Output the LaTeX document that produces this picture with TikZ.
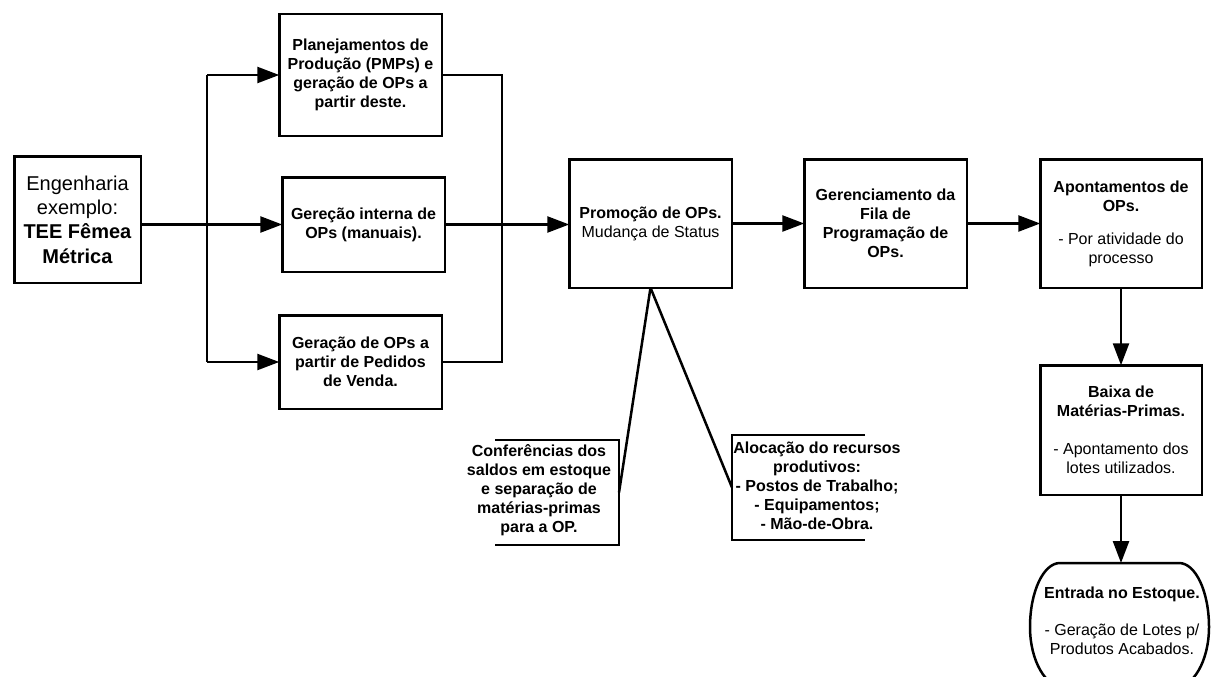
\documentclass[tikz,border=0pt]{standalone}
\usepackage{fontspec}
\setmainfont{Liberation Sans}
\usetikzlibrary{arrows.meta}
\newcommand\regtxt[1]{{\mdseries #1}}
\begin{document}
\begin{tikzpicture}[x=1pt,y=-1pt,
  every node/.style={align=center, inner sep=0pt, outer sep=0pt,
    font=\fontsize{16}{19}\selectfont\bfseries},
  box/.style={draw, line width=2.5pt, minimum width=162.5pt},
  wire/.style={line width=2.5pt},
  arr/.style={wire, -{Triangle[length=22pt,width=16pt]}},
]
\useasboundingbox (0,0) rectangle (1215,677);
\clip (0,0) rectangle (1215,677);

% source box
\node[box, minimum width=126.5pt, minimum height=126.5pt,
      font=\fontsize{20}{24.3}\selectfont] (eng) at (77.5,219.5)
  {Engenharia\\exemplo:\\\textbf{TEE Fêmea}\\\textbf{Métrica}};

% three ways of generating production orders
\node[box, minimum height=121.5pt] (plan) at (360.5,75)
  {Planejamentos de\\Produção (PMPs) e\\geração de OPs a\\partir deste.};
\node[box, minimum height=94.5pt] (ger) at (363.5,224.5)
  {Gereção interna de\\OPs (manuais).};
\node[box, minimum height=93.5pt] (ped) at (360.5,362)
  {Geração de OPs a\\partir de Pedidos\\de Venda.};

% main flow
\node[box, minimum height=128.5pt] (prom) at (650.5,223.5)
  {Promoção de OPs.\\\regtxt{Mudança de Status}};
\node[box, minimum height=128.5pt] (gern) at (885.5,223.5)
  {Gerenciamento da\\Fila de\\Programação de\\OPs.};
\node[box, minimum width=161.5pt, minimum height=128.5pt] (apon) at (1121,223.5)
  {Apontamentos de\\OPs.\\[14pt]\regtxt{- Por atividade do}\\\regtxt{processo}};
\node[box, minimum width=161.5pt, minimum height=129.5pt] (baixa) at (1121,430)
  {Baixa de\\Matérias-Primas.\\[19pt]\regtxt{- Apontamento dos}\\\regtxt{lotes utilizados.}};

% stock entry: rounded outline with flattened top
\draw[line width=2.5pt]
  (1060,563) -- (1179,563)
  .. controls (1195.6,563) and (1209,591.7) .. (1209,627)
  .. controls (1209,660.7) and (1193.3,688) .. (1174,688)
  -- (1065,688)
  .. controls (1045.7,688) and (1030,660.7) .. (1030,627)
  .. controls (1030,591.7) and (1043.4,563) .. cycle;
\coordinate (entrTop) at (1121,563);
\node (entr) at (1122,621)
  {Entrada no Estoque.\\[18pt]\regtxt{- Geração de Lotes p/}\\\regtxt{Produtos Acabados.}};

% annotations hanging from the promotion step
\node (conf) at (539,490)
  {Conferências dos\\saldos em estoque\\e separação de\\matérias-primas\\para a OP.};
\node (aloc) at (817,485.5)
  {Alocação do recursos\\produtivos:\\- Postos de Trabalho;\\- Equipamentos;\\- Mão-de-Obra.};
\draw[wire] (495,440) -| (619,545) -- (495,545);
\draw[wire] (865,435) -| (732,540) -- (865,540);
\coordinate (confR) at (619,492.5);
\coordinate (alocL) at (732,487.5);
\draw[wire] (prom.south) -- (confR);
\draw[wire] (prom.south) -- (alocL);

% fan-out and fan-in buses
\coordinate (busL) at (207,224);
\coordinate (busR) at (502,224);
\draw[arr] (eng.east |- ger.west) -- (ger.west);
\draw[wire] (busL |- plan.west) -- (busL |- ped.west);
\draw[arr] (busL |- plan.west) -- (plan.west);
\draw[arr] (busL |- ped.west) -- (ped.west);
\draw[wire] (plan.east) -- (busR |- plan.east) -- (busR |- ped.east) -- (ped.east);
\draw[arr] (ger.east) -- (ger.east -| prom.west);

\draw[arr] (prom.east) -- (gern.west);
\draw[arr] (gern.east) -- (apon.west);
\draw[arr] (apon.south) -- (baixa.north);
\draw[arr] (baixa.south) -- (entrTop);
\end{tikzpicture}
\end{document}
